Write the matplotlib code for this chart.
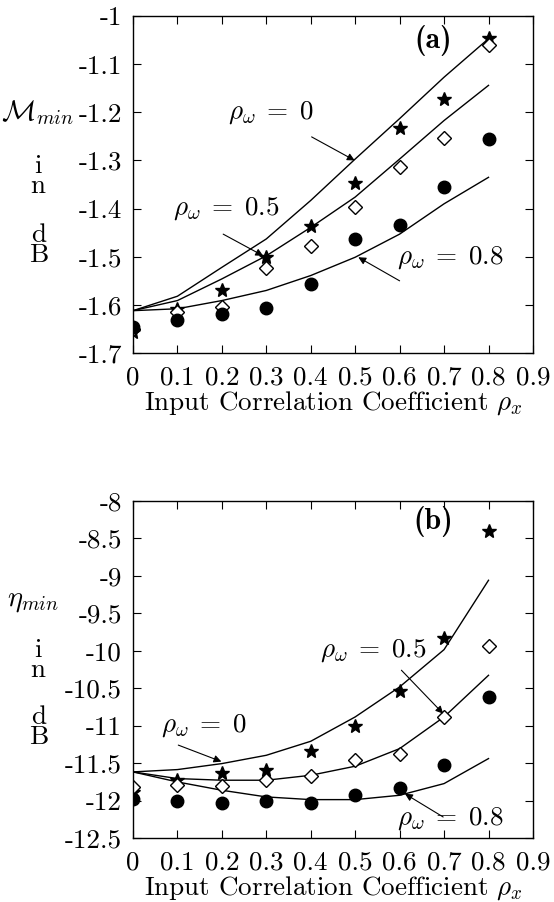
import matplotlib
matplotlib.use("Agg")
import matplotlib.pyplot as plt
import matplotlib.transforms as mtransforms
from matplotlib.ticker import FuncFormatter

plt.rcParams['font.family'] = 'cmr10'
plt.rcParams['mathtext.fontset'] = 'cm'
plt.rcParams['axes.unicode_minus'] = False

rho_x = [0, 0.1, 0.2, 0.3, 0.4, 0.5, 0.6, 0.7, 0.8]

# panel (a): M_min in dB
m_line_0 = [-1.612, -1.582, -1.522, -1.463, -1.383, -1.297, -1.213, -1.127, -1.047]
m_line_05 = [-1.612, -1.591, -1.546, -1.498, -1.439, -1.376, -1.297, -1.217, -1.144]
m_line_08 = [-1.612, -1.608, -1.591, -1.570, -1.539, -1.501, -1.453, -1.390, -1.335]
m_star = [-1.657, -1.608, -1.570, -1.501, -1.437, -1.347, -1.233, -1.172, -1.046]
m_diamond = [-1.650, -1.615, -1.604, -1.524, -1.477, -1.397, -1.314, -1.254, -1.061]
m_circle = [-1.645, -1.631, -1.619, -1.606, -1.556, -1.464, -1.435, -1.355, -1.255]

# panel (b): eta_min in dB
e_line_0 = [-11.618, -11.587, -11.507, -11.396, -11.209, -10.884, -10.483, -9.985, -9.059]
e_line_05 = [-11.618, -11.707, -11.729, -11.729, -11.663, -11.542, -11.307, -10.884, -10.328]
e_line_08 = [-11.618, -11.752, -11.863, -11.952, -11.988, -11.988, -11.930, -11.774, -11.440]
e_star = [-11.885, -11.720, -11.630, -11.596, -11.338, -11.008, -10.537, -9.829, -8.405]
e_diamond = [-11.818, -11.796, -11.810, -11.720, -11.676, -11.454, -11.382, -10.884, -9.940]
e_circle = [-11.974, -12.005, -12.032, -12.005, -12.032, -11.930, -11.832, -11.529, -10.617]

fs = 19.5

fig = plt.figure(figsize=(5.54, 9.02), dpi=100)
ax1 = fig.add_axes([0.240, 0.6086, 0.722, 0.3736])
ax2 = fig.add_axes([0.240, 0.0710, 0.722, 0.3736])

arrow = dict(arrowstyle='-|>', color='black', lw=0.8, mutation_scale=11,
             shrinkA=0, shrinkB=0)


def rho_w(v):
    return r'$\rho_\omega\;=\;' + v + '$'


def draw_panel(ax, lines, star, diamond, circle):
    for ln in lines:
        ax.plot(rho_x, ln, color='black', lw=1.0)
    ax.plot(rho_x, star, linestyle='none', marker='*', color='black', markersize=10)
    ax.plot(rho_x, diamond, linestyle='none', marker='D', markerfacecolor='white',
            markeredgecolor='black', markersize=7, markeredgewidth=1.0)
    ax.plot(rho_x, circle, linestyle='none', marker='o', color='black', markersize=9)
    ax.set_xlim(0, 0.9)
    ax.set_xticks([0, 0.1, 0.2, 0.3, 0.4, 0.5, 0.6, 0.7, 0.8, 0.9])
    ax.xaxis.set_major_formatter(FuncFormatter(lambda v, p: '%g' % round(v, 2)))
    ax.yaxis.set_major_formatter(FuncFormatter(lambda v, p: '%g' % round(v, 2)))
    ax.tick_params(direction='in', top=True, right=True, length=6, width=0.8,
                   labelsize=fs)
    ax.tick_params(axis='x', pad=9)
    ax.tick_params(axis='y', pad=8)
    ax.set_xlabel(r'Input Correlation Coefficient $\rho_x$', fontsize=fs, labelpad=0)
    for s in ax.spines.values():
        s.set_linewidth(1.0)


draw_panel(ax1, [m_line_0, m_line_05, m_line_08], m_star, m_diamond, m_circle)
ax1.set_ylim(-1.7, -1.0)
ax1.set_yticks([-1.7, -1.6, -1.5, -1.4, -1.3, -1.2, -1.1, -1.0])
ax1.text(0.675, -1.05, '(a)', fontsize=fs + 2, family='cmb10', ha='center', va='center')
ax1.text(0.214, -1.20, rho_w('0'), fontsize=fs, va='center', ha='left')
ax1.annotate('', xy=(0.499, -1.30), xytext=(0.402, -1.251), arrowprops=arrow)
ax1.text(0.091, -1.40, rho_w('0.5'), fontsize=fs, va='center', ha='left')
ax1.annotate('', xy=(0.293, -1.498), xytext=(0.203, -1.453), arrowprops=arrow)
ax1.text(0.593, -1.501, rho_w('0.8'), fontsize=fs, va='center', ha='left')
ax1.annotate('', xy=(0.507, -1.501), xytext=(0.60, -1.55), arrowprops=arrow)

draw_panel(ax2, [e_line_0, e_line_05, e_line_08], e_star, e_diamond, e_circle)
ax2.set_ylim(-12.5, -8.0)
ax2.set_yticks([-12.5, -12, -11.5, -11, -10.5, -10, -9.5, -9, -8.5, -8])
ax2.text(0.675, -8.28, '(b)', fontsize=fs + 2, family='cmb10', ha='center', va='center')
ax2.text(0.42, -10.0, rho_w('0.5'), fontsize=fs, va='center', ha='left')
ax2.annotate('', xy=(0.698, -10.84), xytext=(0.604, -10.26), arrowprops=arrow)
ax2.text(0.064, -11.0, rho_w('0'), fontsize=fs, va='center', ha='left')
ax2.annotate('', xy=(0.199, -11.48), xytext=(0.102, -11.26), arrowprops=arrow)
ax2.text(0.593, -12.24, rho_w('0.8'), fontsize=fs, va='center', ha='left')
ax2.annotate('', xy=(0.612, -11.91), xytext=(0.698, -12.22), arrowprops=arrow)

# stacked y-axis labels
tr1 = mtransforms.blended_transform_factory(fig.transFigure, ax1.transData)
fig.text(0.068, -1.2, r'$\mathcal{M}_{min}$', transform=tr1, fontsize=fs + 1,
         ha='center', va='center')
fig.text(0.069, -1.333, 'i\nn', transform=tr1, fontsize=fs, ha='center', va='center',
         linespacing=0.8)
fig.text(0.069, -1.475, 'd\nB', transform=tr1, fontsize=fs, ha='center', va='center',
         linespacing=0.8)

tr2 = mtransforms.blended_transform_factory(fig.transFigure, ax2.transData)
fig.text(0.060, -9.33, r'$\eta_{min}$', transform=tr2, fontsize=fs + 1,
         ha='center', va='center')
fig.text(0.069, -10.12, 'i\nn', transform=tr2, fontsize=fs, ha='center', va='center',
         linespacing=0.8)
fig.text(0.069, -11.02, 'd\nB', transform=tr2, fontsize=fs, ha='center', va='center',
         linespacing=0.8)

fig.savefig('out.png', dpi=100, facecolor='white')
